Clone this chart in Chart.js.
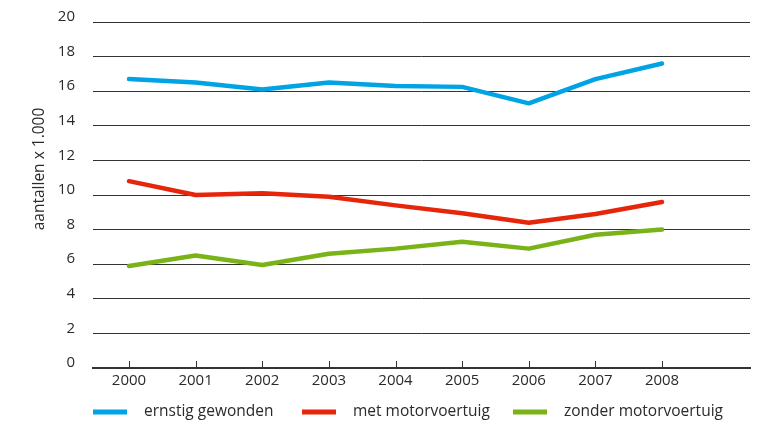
<!DOCTYPE html>
<html>
<head>
<meta charset="utf-8">
<script src="https://cdn.jsdelivr.net/npm/chart.js@4/dist/chart.umd.min.js"></script>
<style>
html,body{margin:0;padding:0;background:#fff;}
#wrap{width:757px;height:425px;position:relative;}
</style>
</head>
<body>
<div id="wrap"><canvas id="c" width="757" height="425"></canvas></div>
<script>
const years = [2000, 2001, 2002, 2003, 2004, 2005, 2006, 2007, 2008];
const ernstigGewonden = [16.7, 16.5, 16.1, 16.5, 16.3, 16.25, 15.3, 16.7, 17.6];
const metMotorvoertuig = [10.8, 10.0, 10.1, 9.9, 9.4, 8.95, 8.4, 8.9, 9.6];
const zonderMotorvoertuig = [5.9, 6.5, 5.95, 6.6, 6.9, 7.3, 6.9, 7.7, 8.0];
const seriesLabels = ['ernstig gewonden', 'met motorvoertuig', 'zonder motorvoertuig'];
const yTicks = [0, 2, 4, 6, 8, 10, 12, 14, 16, 18, 20];
const yTitle = 'aantallen x 1.000';

const colors = ['#00A3E4', '#E6260B', '#7AB317'];
const FONT = '"Open Sans", sans-serif';
const TEXT = '#2a2a2a';

function pts(vals){ return years.map((y,i)=>({x:y, y:vals[i]})); }

const extras = {
  id: 'extras',
  afterDatasetsDraw(chart){
    const ctx = chart.ctx;
    const xs = chart.scales.x, ys = chart.scales.y;
    const bottom = ys.getPixelForValue(0);
    ctx.save();
    ctx.strokeStyle = '#333';
    ctx.lineWidth = 1;
    years.forEach(y=>{
      const px = Math.round(xs.getPixelForValue(y)) + 0.5;
      ctx.beginPath(); ctx.moveTo(px, bottom); ctx.lineTo(px, bottom - 7); ctx.stroke();
    });
    ctx.fillStyle = TEXT;
    ctx.font = '15.5px ' + FONT;
    ctx.translate(40, 169);
    ctx.rotate(-Math.PI/2);
    ctx.textAlign = 'center';
    ctx.textBaseline = 'middle';
    ctx.fillText(yTitle, 0, 0);
    ctx.restore();
    ctx.save();
    const lx = [93, 302, 513];
    const ly = 412;
    ctx.font = '15.5px ' + FONT;
    ctx.textBaseline = 'middle';
    chart.data.datasets.forEach((ds,i)=>{
      ctx.fillStyle = ds.borderColor;
      ctx.fillRect(lx[i], ly - 2.5, 34, 5);
      ctx.fillStyle = TEXT;
      ctx.fillText(ds.label, lx[i] + 51, ly);
    });
    ctx.restore();
  }
};

new Chart(document.getElementById('c'), {
  type: 'line',
  data: {
    datasets: [
      {label: seriesLabels[0], data: pts(ernstigGewonden)},
      {label: seriesLabels[1], data: pts(metMotorvoertuig)},
      {label: seriesLabels[2], data: pts(zonderMotorvoertuig)}
    ].map((d,i)=>Object.assign(d, {
      borderColor: colors[i], backgroundColor: colors[i], borderWidth: 4.5,
      pointRadius: 0, tension: 0, borderCapStyle: 'round', borderJoinStyle: 'round', fill: false
    }))
  },
  options: {
    responsive: false,
    animation: false,
    devicePixelRatio: 1,
    layout: {padding: {left: 0, right: 7, top: 22, bottom: 0}},
    plugins: {legend: {display: false}, tooltip: {enabled: false}, title: {display: false}},
    scales: {
      x: {
        type: 'linear', min: 1999.46, max: 2009.32,
        afterBuildTicks: s => { s.ticks = years.map(v=>({value: v})); },
        afterFit: s => { s.height = 57; s.paddingLeft = 0; s.paddingRight = 0; },
        grid: {display: false, drawTicks: false},
        border: {display: true, color: '#333', width: 2},
        ticks: {callback: v => String(v), color: TEXT, font: {family: FONT, size: 15}, padding: 4, maxRotation: 0, autoSkip: false}
      },
      y: {
        min: 0, max: 20,
        afterBuildTicks: s => { s.ticks = yTicks.map(v=>({value: v})); },
        afterFit: s => { s.width = 93; s.paddingTop = 0; s.paddingBottom = 0; },
        grid: {color: '#333', lineWidth: 1, drawTicks: false},
        border: {display: false},
        ticks: {color: TEXT, font: {family: FONT, size: 15}, padding: 18, labelOffset: -5}
      }
    }
  },
  plugins: [extras]
});
</script>
</body>
</html>
